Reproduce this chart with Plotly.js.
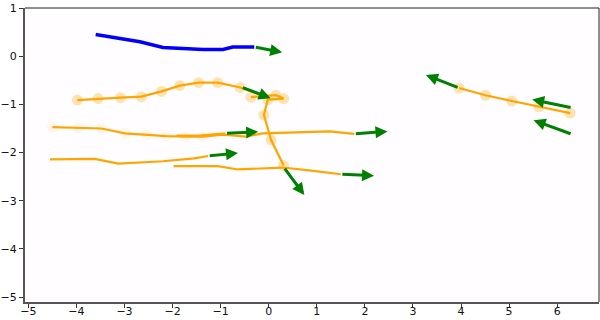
<!DOCTYPE html>
<html>
<head>
<meta charset="utf-8">
<script src="https://cdn.plot.ly/plotly-3.0.1.min.js"></script>
<style>html,body{margin:0;padding:0;background:#fff;}#chart{width:600px;height:320px;}</style>
</head>
<body>
<div id="chart"></div>
<script>
// Ego (blue) trajectory
const blueX = [-3.60, -2.68, -2.20, -1.37, -0.95, -0.75, -0.30];
const blueY = [0.45, 0.30, 0.18, 0.14, 0.14, 0.19, 0.19];

// Upper orange agent (with history markers)
const agent1X = [-3.98, -3.55, -3.08, -2.65, -2.23, -1.85, -1.46, -1.06, -0.59, -0.02];
const agent1Y = [-0.91, -0.88, -0.86, -0.84, -0.73, -0.61, -0.55, -0.55, -0.65, -0.85];

// Agent around origin, heading down
const agent2X = [-0.37, 0.15, 0.31, -0.02, -0.10, 0.05, 0.31];
const agent2Y = [-0.85, -0.81, -0.88, -0.90, -1.22, -1.74, -2.27];

// Long middle line
const lineAX = [-4.50, -3.96, -3.48, -2.99, -2.54, -2.13, -1.74, -1.37, -0.95, -0.47, -0.13, 0.64, 1.26, 1.78];
const lineAY = [-1.47, -1.49, -1.50, -1.60, -1.63, -1.66, -1.67, -1.67, -1.63, -1.67, -1.60, -1.57, -1.56, -1.61];

// Short middle line
const lineA2X = [-1.92, -1.40, -0.90];
const lineA2Y = [-1.65, -1.64, -1.60];

// Lower-left line
const lineBX = [-4.55, -3.62, -3.13, -2.20, -1.55, -1.26];
const lineBY = [-2.14, -2.13, -2.23, -2.18, -2.12, -2.07];

// Lower line
const lineCX = [-1.98, -1.06, -0.64, -0.05, 0.29, 0.84, 1.50];
const lineCY = [-2.28, -2.28, -2.35, -2.32, -2.31, -2.37, -2.45];

// Right agent
const agent3X = [3.96, 4.51, 5.06, 5.62, 6.27];
const agent3Y = [-0.66, -0.81, -0.93, -1.05, -1.18];

// Heading arrows (start -> end)
const arrowStartX = [-0.30, -0.57, 0.31, 1.78, -0.90, -1.26, 1.50, 3.96, 6.31, 6.31];
const arrowStartY = [0.19, -0.64, -2.30, -1.61, -1.60, -2.07, -2.45, -0.66, -1.07, -1.62];
const arrowEndX   = [0.28, 0.04, 0.74, 2.47, -0.22, -0.64, 2.19, 3.27, 5.48, 5.51];
const arrowEndY   = [0.08, -0.87, -2.88, -1.56, -1.57, -2.01, -2.48, -0.39, -0.90, -1.33];

const xTicks = [-5, -4, -3, -2, -1, 0, 1, 2, 3, 4, 5, 6];
const yTicks = [1, 0, -1, -2, -3, -4, -5];

const ORANGE = '#FFA500', BLUE = '#0000FF', GREEN = '#008000';

function markersTrace(x, y, op) {
  return {x: x, y: y, type: 'scatter', mode: 'markers',
    marker: {color: ORANGE, size: 11, opacity: op, line: {width: 0}},
    hoverinfo: 'skip', showlegend: false};
}
function lineTrace(x, y, color, w) {
  return {x: x, y: y, type: 'scatter', mode: 'lines',
    line: {color: color, width: w}, hoverinfo: 'skip', showlegend: false};
}

const traces = [
  markersTrace(agent1X.slice(0, 9), agent1Y.slice(0, 9), 0.3),
  markersTrace(agent2X, agent2Y, 0.3),
  markersTrace(lineAX.slice(0, 8), lineAY.slice(0, 8), 0.08),
  markersTrace(agent3X, agent3Y, 0.3),
  lineTrace(agent1X, agent1Y, ORANGE, 2.2),
  lineTrace(agent2X, agent2Y, ORANGE, 2.2),
  lineTrace(lineAX, lineAY, ORANGE, 2.2),
  lineTrace(lineA2X, lineA2Y, ORANGE, 2.2),
  lineTrace(lineBX, lineBY, ORANGE, 2.2),
  lineTrace(lineCX, lineCY, ORANGE, 2.2),
  lineTrace(agent3X, agent3Y, ORANGE, 2.2),
  lineTrace(blueX, blueY, BLUE, 3.5)
];

const annotations = arrowStartX.map((sx, i) => ({
  x: arrowEndX[i], y: arrowEndY[i], ax: sx, ay: arrowStartY[i],
  xref: 'x', yref: 'y', axref: 'x', ayref: 'y',
  showarrow: true, arrowhead: 2, arrowsize: 0.8, arrowwidth: 3,
  arrowcolor: GREEN, standoff: 0, startstandoff: 0, text: ''
}));

const axisCommon = {
  showgrid: false, zeroline: false, showline: true, linecolor: '#555', linewidth: 2,
  ticks: 'outside', ticklen: 4, tickwidth: 1, tickcolor: '#333',
  tickfont: {family: 'DejaVu Sans', size: 11, color: '#111'}
};

const layout = {
  width: 600, height: 320,
  margin: {l: 25, r: 1, t: 8, b: 18},
  paper_bgcolor: '#ffffff', plot_bgcolor: '#fffdff',
  showlegend: false,
  xaxis: Object.assign({}, axisCommon, {range: [-5.07, 6.87], tickvals: xTicks, ticklabelstandoff: -6, ticktext: xTicks.map(v => (v < 0 ? '\u2212' + Math.abs(v) : String(v)))}),
  yaxis: Object.assign({}, axisCommon, {range: [-5.1, 1.0], tickvals: yTicks, ticktext: yTicks.map(v => (v < 0 ? '\u2212' + Math.abs(v) : String(v)))}),
  shapes: [
    {type: 'line', xref: 'paper', yref: 'paper', x0: 0, x1: 1, y0: 1, y1: 1, line: {color: '#222', width: 1}},
    {type: 'line', xref: 'paper', yref: 'paper', x0: 1, x1: 1, y0: 0, y1: 1, line: {color: '#222', width: 1}}
  ],
  annotations: annotations
};

Plotly.newPlot('chart', traces, layout, {staticPlot: true, displayModeBar: false});
</script>
</body>
</html>
